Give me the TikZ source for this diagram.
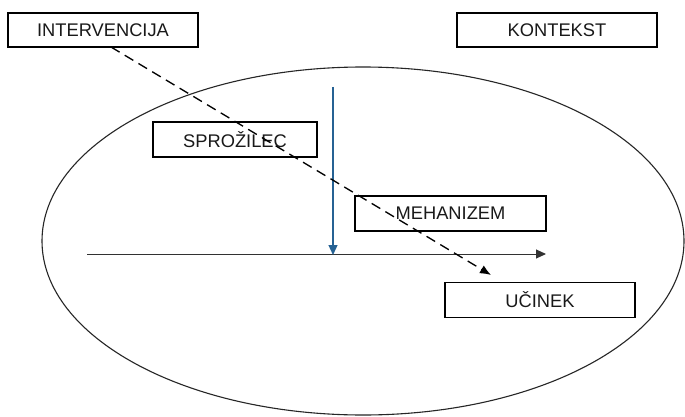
\documentclass[tikz,border=0pt]{standalone}
\usepackage{fontspec}
\setmainfont{Liberation Sans}
\usetikzlibrary{arrows.meta}
\definecolor{bluearrow}{RGB}{38,98,148}
\definecolor{axisgray}{RGB}{50,50,50}
\begin{document}
\begin{tikzpicture}[x=1pt,y=-1pt,
  labelbox/.style={draw=black, line width=1.9pt, rectangle, inner sep=0pt,
    font=\fontsize{18.3}{21}\selectfont, text=black!90},
  ellipseline/.style={line width=1.1pt, draw=black!85},
  dashedarrow/.style={dashed, dash pattern=on 10pt off 6pt, line width=1.3pt,
    -{Latex[length=11pt,width=9pt]}},
  bluearrowline/.style={draw=bluearrow, line width=1.3pt, -{Triangle[length=10pt,width=9pt]}},
  axisline/.style={draw=axisgray, line width=1pt, -{Triangle[length=10pt,width=9pt]}}]
\useasboundingbox (0,0) rectangle (685,417);
\fill[white] (0,0) rectangle (685,417);
% ellipse
\draw[ellipseline] (363,241) ellipse [x radius=321, y radius=174];
% boxes
\node[labelbox, minimum width=190pt, minimum height=34pt] (intv) at (103,30) {INTERVENCIJA};
\node[labelbox, minimum width=200pt, minimum height=34pt] (kont) at (557,30) {KONTEKST};
\node[labelbox, minimum width=164pt, minimum height=35pt] (spro) at (235,139.5) {SPROŽILEC};
\node[labelbox, minimum width=191pt, minimum height=35pt] (meh) at (450.5,213.5) {MEHANIZEM};
\node[labelbox, minimum width=190pt, minimum height=35pt] (ucin) at (540,300) {UČINEK};
% axes
\coordinate (hstart) at (87,254);
\coordinate (hend) at (546,254);
\coordinate (vtop) at (333,87);
\coordinate (vbot) at (333,255);
\draw[axisline] (hstart) -- (hend);
\draw[bluearrowline] (vtop) -- (vbot);
% dashed arrow
\coordinate (dstart) at (111,47);
\coordinate (dend) at (491,275);
\draw[dashedarrow] (dstart) -- (dend);
\end{tikzpicture}
\end{document}
